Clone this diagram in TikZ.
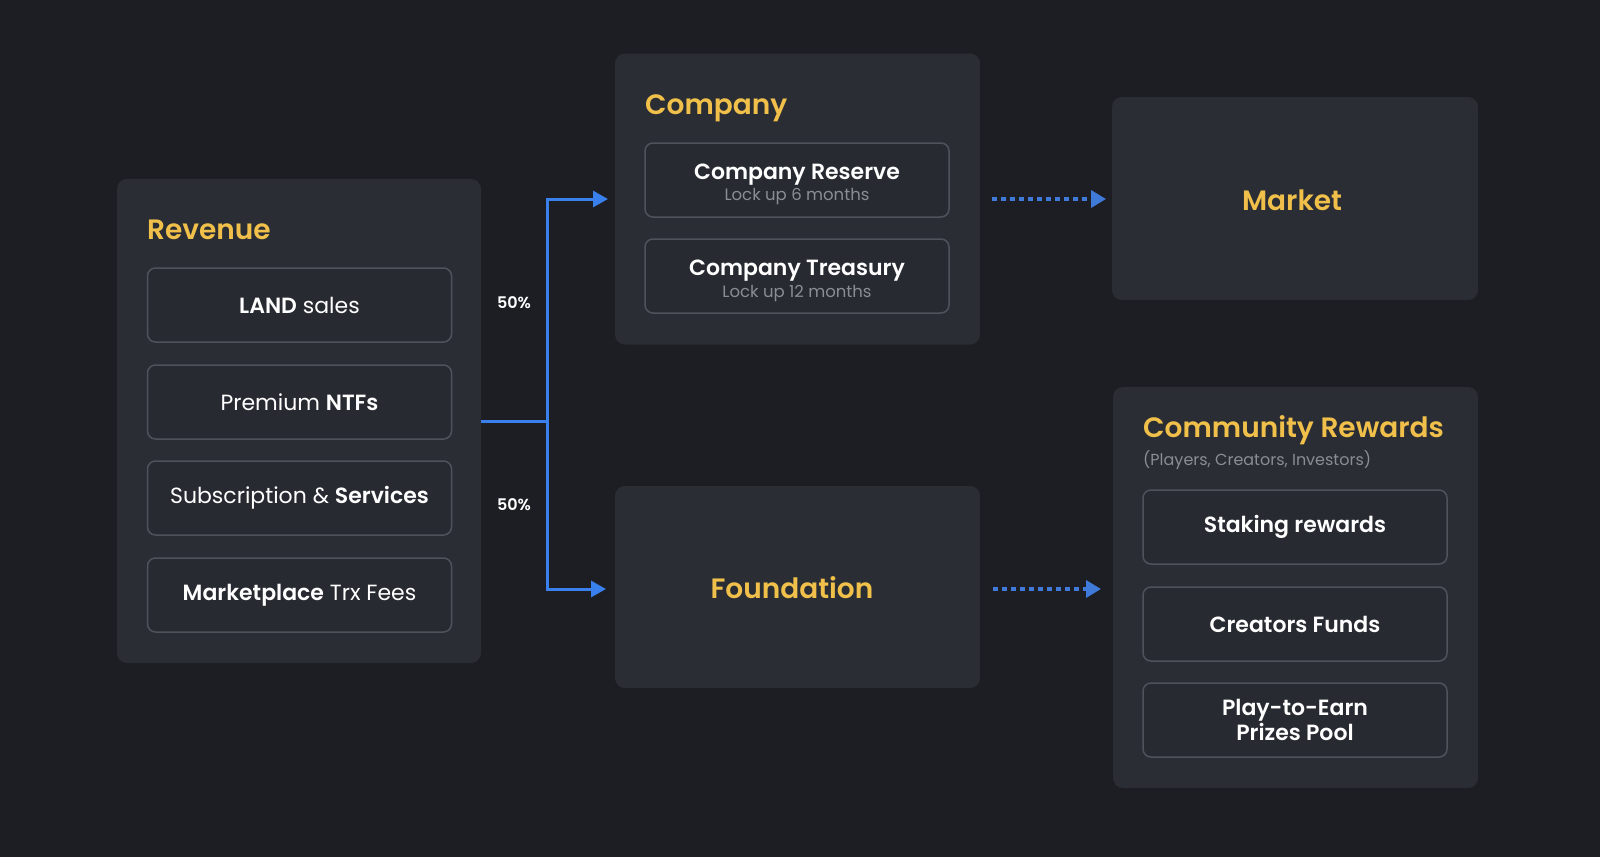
\documentclass[tikz,border=0pt]{standalone}
\usepackage{fontspec}
\setmainfont{Poppins}[BoldFont={Poppins SemiBold}]
\usetikzlibrary{arrows.meta}
\definecolor{bgc}{HTML}{1C1E24}
\definecolor{boxc}{HTML}{2A2D34}
\definecolor{innerc}{HTML}{272A31}
\definecolor{bordc}{HTML}{4F525A}
\definecolor{goldc}{HTML}{F0C04A}
\definecolor{bluec}{HTML}{3A80EC}
\definecolor{dotc}{HTML}{3F7AD8}
\definecolor{subc}{HTML}{8A8D93}
\tikzset{
  outerbox/.style={fill=boxc, draw=none, rounded corners=10pt, inner sep=0pt, outer sep=0pt},
  innerbox/.style={fill=innerc, draw=bordc, line width=1.5pt, rounded corners=8pt, inner sep=0pt, outer sep=0pt, minimum width=304pt, minimum height=74pt, text=white, font=\fontsize{22}{27}\selectfont, align=center},
  titletext/.style={text=goldc, font=\fontsize{28}{32}\selectfont\bfseries, inner sep=0pt},
  subtext/.style={text=subc, font=\fontsize{16}{20}\selectfont, inner sep=0pt},
  pct/.style={text=white, font=\fontsize{16}{19}\selectfont\bfseries, inner sep=0pt},
  solidarrow/.style={draw=bluec, line width=3pt, -{Triangle[length=15pt,width=16pt]}},
  dotarrow/.style={draw=dotc, line width=3.5pt, dash pattern=on 5pt off 4pt, -{Triangle[length=15pt,width=17pt]}}
}
\begin{document}
\begin{tikzpicture}[x=1pt,y=-1pt]
\fill[bgc] (0,0) rectangle (1600,857);
\useasboundingbox (0,0) rectangle (1600,857);

% Revenue
\node[outerbox, minimum width=364pt, minimum height=484pt] (rev) at (299,421) {};
\node[titletext, anchor=base west] (revt) at (147,239) {Revenue};
\node[innerbox] (r1) at (299.5,305) {\textbf{LAND} sales};
\node[innerbox] (r2) at (299.5,402) {Premium \textbf{NTFs}};
\node[innerbox] (r3) at (299.5,498) {Subscription \& \textbf{Services}};
\node[innerbox] (r4) at (299.5,595) {\textbf{Marketplace} Trx Fees};

% Company
\node[outerbox, minimum width=365pt, minimum height=291pt] (comp) at (797.5,199) {};
\node[titletext, anchor=base west] (compt) at (645,114) {Company};
\node[innerbox] (c1) at (797,180) {};
\node[innerbox] (c2) at (797,276) {};
\node[text=white, font=\fontsize{22}{27}\selectfont\bfseries, inner sep=0pt, anchor=base] (c1a) at (797,179) {Company Reserve};
\node[subtext, font=\fontsize{16.5}{20}\selectfont, anchor=base] (c1b) at (797,200) {Lock up 6 months};
\node[text=white, font=\fontsize{22}{27}\selectfont\bfseries, inner sep=0pt, anchor=base] (c2a) at (797,275) {Company Treasury};
\node[subtext, font=\fontsize{16.5}{20}\selectfont, anchor=base] (c2b) at (797,297) {Lock up 12 months};

% Market
\node[outerbox, minimum width=366pt, minimum height=203pt] (market) at (1295,198.5) {};
\node[titletext] (markett) at (1292,200) {Market};

% Foundation
\node[outerbox, minimum width=365pt, minimum height=202pt] (found) at (797.5,587) {};
\node[titletext] (foundt) at (792,588) {Foundation};

% Community
\node[outerbox, minimum width=365pt, minimum height=401pt] (comm) at (1295.5,587.5) {};
\node[titletext, anchor=base west] (commt) at (1143,437) {Community Rewards};
\node[subtext, anchor=base west] (comms) at (1143,465) {(Players, Creators, Investors)};
\node[innerbox, font=\fontsize{22}{27}\selectfont\bfseries] (k1) at (1295,527) {Staking rewards};
\node[innerbox, font=\fontsize{22}{27}\selectfont\bfseries] (k2) at (1295,624) {Creators Funds};
\node[innerbox, font=\fontsize{22}{27}\selectfont\bfseries] (k3) at (1295,720) {Play-to-Earn\\[-2pt]Prizes Pool};

% connectors
\coordinate (j) at (547,421);
\coordinate (fin) at ([yshift=-2pt]found.west);
\coordinate (fout) at ([yshift=-2pt]found.east);
\draw[draw=bluec, line width=3pt] (rev.east) -- (j);
\draw[solidarrow, shorten >=7pt] (j) |- (comp.west);
\draw[solidarrow, shorten >=9pt] (j) |- (fin);
\node[pct] (p1) at (514,303) {50\%};
\node[pct] (p2) at (514,505) {50\%};

\draw[dotarrow, shorten <=12pt, shorten >=6pt] (comp.east) -- (market.west |- comp.east);
\draw[dotarrow, shorten <=13pt, shorten >=12pt] (fout) -- (comm.west |- fout);
\end{tikzpicture}
\end{document}
